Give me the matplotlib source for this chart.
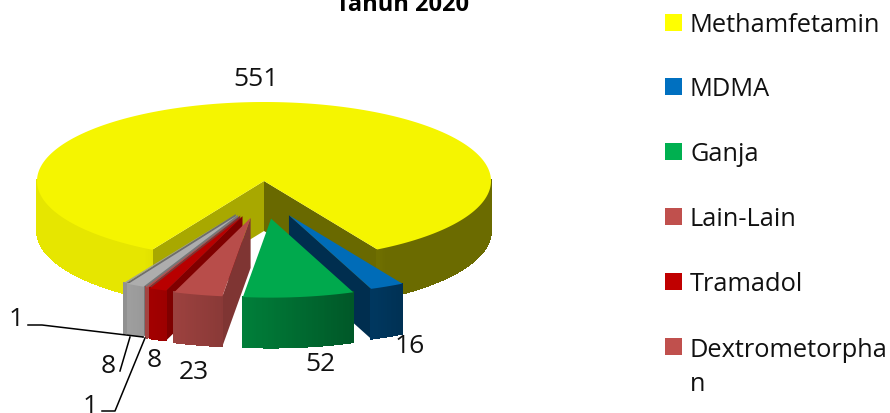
import matplotlib

matplotlib.use("Agg")
import matplotlib.pyplot as plt
import numpy as np
from matplotlib.collections import PolyCollection
from matplotlib.colors import to_rgb
from matplotlib.patches import Polygon, Rectangle

# chart data, in legend order
names = ["Methamfetamin", "MDMA", "Ganja", "Lain-Lain", "Tramadol", "Dextrometorpha\nn", "Lainnya", "Lainnya 2"]
values = [551, 16, 52, 23, 8, 1, 8, 1]
colors = ["#ffff00", "#0070c0", "#00b050", "#c0504d", "#c00000", "#c0504d", "#b4b4b4", "#a5a5a5"]
legend_count = 6  # the rest is cut off in the original
title = "Tahun 2020"

# layout, all in image pixels
CX, CY, RX, RY = 264, 182, 227, 79
DEPTH = 50
START = 209.5  # clockwise from 12 o'clock
EXPLODE = 0.48
EXPLODE_X = 0.53  # perspective squeezes the sideways shift
explode_flags = [0, 1, 1, 1, 1, 1, 1, 1]
draw_order = [0, 7, 6, 5, 4, 3, 1, 2]
label_xy = [(256, 80), (410, 347), (320, 365), (194, 373), (154, 361), (16, 320), (108, 367), (90, 407)]
leaders = [
    ([28, 42, 143], [326, 326, 338]),
    ([120, 130], [372, 338]),
    ([102, 115, 145], [412, 412, 339]),
]


def shade(color, f):
    return tuple(c * f for c in to_rgb(color))


def wall_shade(x):
    return float(np.clip(0.66 - 0.45 * x, 0.42, 0.9))


def draw_slice(ax, a0, a1, color, ox, oy):
    cx, cy = CX + ox, CY + oy
    ang = np.radians(np.linspace(a0, a1, max(int((a1 - a0) * 2), 2) + 1))
    px = cx + RX * np.sin(ang)
    py = cy - RY * np.cos(ang)

    # flat walls along the two cuts, only the side that faces the viewer
    for k, f, visible in ((0, 0.66, np.sin(ang[0]) < 0), (-1, 0.41, np.sin(ang[-1]) > 0)):
        if visible:
            ax.add_patch(Polygon([(cx, cy), (px[k], py[k]), (px[k], py[k] + DEPTH), (cx, cy + DEPTH)],
                                 fc=shade(color, f), ec="none", zorder=2))

    # outer rim, cut in thin strips to get the gradient
    quads, cols = [], []
    for i in range(len(ang) - 1):
        if np.cos((ang[i] + ang[i + 1]) / 2) > 0.02:
            continue
        quads.append([(px[i], py[i]), (px[i + 1], py[i + 1]), (px[i + 1], py[i + 1] + DEPTH), (px[i], py[i] + DEPTH)])
        cols.append(shade(color, wall_shade(np.sin((ang[i] + ang[i + 1]) / 2))))
    if quads:
        ax.add_collection(PolyCollection(quads, facecolors=cols, edgecolors=cols, linewidths=0.6,
                                         antialiaseds=False, zorder=2))

    top = [(cx, cy)] + list(zip(px, py))
    ax.add_patch(Polygon(top, fc=shade(color, 0.96), ec="none", zorder=2))


def main():
    plt.rcParams["font.family"] = ["Open Sans", "DejaVu Sans"]
    fig = plt.figure(figsize=(8.9, 4.14), dpi=100)
    ax = fig.add_axes([0, 0, 1, 1])
    ax.set_xlim(0, 890)
    ax.set_ylim(414, 0)
    ax.axis("off")

    sweep = np.array(values) / sum(values) * 360
    ends = START + np.cumsum(sweep)
    starts = ends - sweep

    for i in draw_order:
        mid = np.radians((starts[i] + ends[i]) / 2)
        ox = explode_flags[i] * EXPLODE * EXPLODE_X * RX * np.sin(mid)
        oy = -explode_flags[i] * EXPLODE * RY * np.cos(mid)
        draw_slice(ax, starts[i], ends[i], colors[i], ox, oy)

    for v, (x, y) in zip(values, label_xy):
        ax.text(x, y, str(v), fontsize=19, ha="center", va="center", color="#111111", zorder=4)
    for xs, ys in leaders:
        ax.plot(xs, ys, color="black", lw=1.1, zorder=3)

    ax.text(403, 11, title, fontsize=17, fontweight="bold", ha="center", va="baseline", color="black")

    # legend
    for i in range(legend_count):
        y = 23 + i * 64.8
        ax.add_patch(Rectangle((665, y - 8.5), 17, 17, fc=colors[i], ec="none"))
        # baseline of a wrapped text is its last line
        base = y + 8.5 + 36 * names[i].count("\n")
        ax.text(690, base, names[i], fontsize=18.3, ha="left", va="baseline", linespacing=1.5, color="#111111")

    fig.savefig("out.png", dpi=100)


if __name__ == "__main__":
    main()
